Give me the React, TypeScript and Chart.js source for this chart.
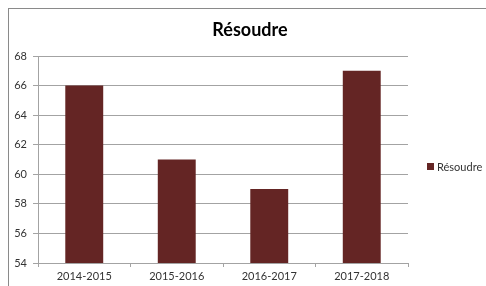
import React, { useEffect, useRef } from "react";
import { Chart, registerables } from "chart.js";

Chart.register(...registerables);

const categories = ["2014-2015", "2015-2016", "2016-2017", "2017-2018"];
const seriesName = "Résoudre";
const values = [66, 61, 59, 67];
const chartTitle = "Résoudre";
const yMin = 54;
const yMax = 68;
const yStep = 2;

const FONT = "Lato, 'Open Sans', sans-serif";
const BAR = "#642524";
const GRID = "#a3a3a3";
const TEXT = "#333333";

const overlayPlugin = {
  id: "overlay",
  afterDraw(chart: any) {
    const ctx = chart.ctx;
    ctx.save();
    ctx.fillStyle = "#000000";
    ctx.font = `bold 18px ${FONT}`;
    ctx.textAlign = "center";
    ctx.textBaseline = "middle";
    ctx.fillText(chartTitle, 250, 30);
    // legend
    ctx.fillStyle = BAR;
    ctx.fillRect(427, 163, 7, 7);
    ctx.fillStyle = TEXT;
    ctx.font = `11px ${FONT}`;
    ctx.textAlign = "left";
    ctx.fillText(seriesName, 437, 167);
    ctx.restore();
  },
};

export default function App() {
  const ref = useRef<HTMLCanvasElement | null>(null);
  useEffect(() => {
    if (!ref.current) return;
    const chart = new Chart(ref.current, {
      type: "bar",
      data: {
        labels: categories,
        datasets: [
          {
            label: seriesName,
            data: values,
            backgroundColor: BAR,
            borderWidth: 0,
            categoryPercentage: 1,
            barPercentage: 0.41,
          },
        ],
      },
      options: {
        animation: false,
        responsive: false,
        maintainAspectRatio: false,
        layout: { padding: { top: 56, right: 78, left: 0, bottom: 0 } },
        plugins: {
          legend: { display: false },
          title: { display: false },
          tooltip: { enabled: false },
        },
        scales: {
          x: {
            afterFit: (s: any) => {
              s.height = 23;
            },
            grid: {
              display: true,
              drawOnChartArea: false,
              drawTicks: true,
              tickLength: 4,
              color: GRID,
              offset: true,
            },
            border: { display: true, color: GRID },
            ticks: {
              color: TEXT,
              font: { family: FONT, size: 11 },
              padding: 3,
              maxRotation: 0,
            },
          },
          y: {
            min: yMin,
            max: yMax,
            afterFit: (s: any) => {
              s.width = 38;
            },
            grid: {
              color: GRID,
              tickLength: 5,
              drawTicks: true,
            },
            border: { display: true, color: GRID },
            ticks: {
              stepSize: yStep,
              color: TEXT,
              font: { family: FONT, size: 11 },
              padding: 6,
            },
          },
        },
      },
      plugins: [overlayPlugin],
    });
    return () => chart.destroy();
  }, []);

  return (
    <div
      style={{
        position: "fixed",
        left: 0,
        top: 0,
        width: 486,
        height: 286,
        overflow: "hidden",
        background: "#ffffff",
      }}
    >
      <div
        style={{
          position: "absolute",
          left: 8,
          top: 8,
          width: 500,
          height: 300,
          border: "1px solid #8a8a8a",
          boxSizing: "border-box",
        }}
      />
      <canvas
        ref={ref}
        width={486}
        height={286}
        style={{ position: "absolute", left: 0, top: 0, width: 486, height: 286 }}
      />
    </div>
  );
}
